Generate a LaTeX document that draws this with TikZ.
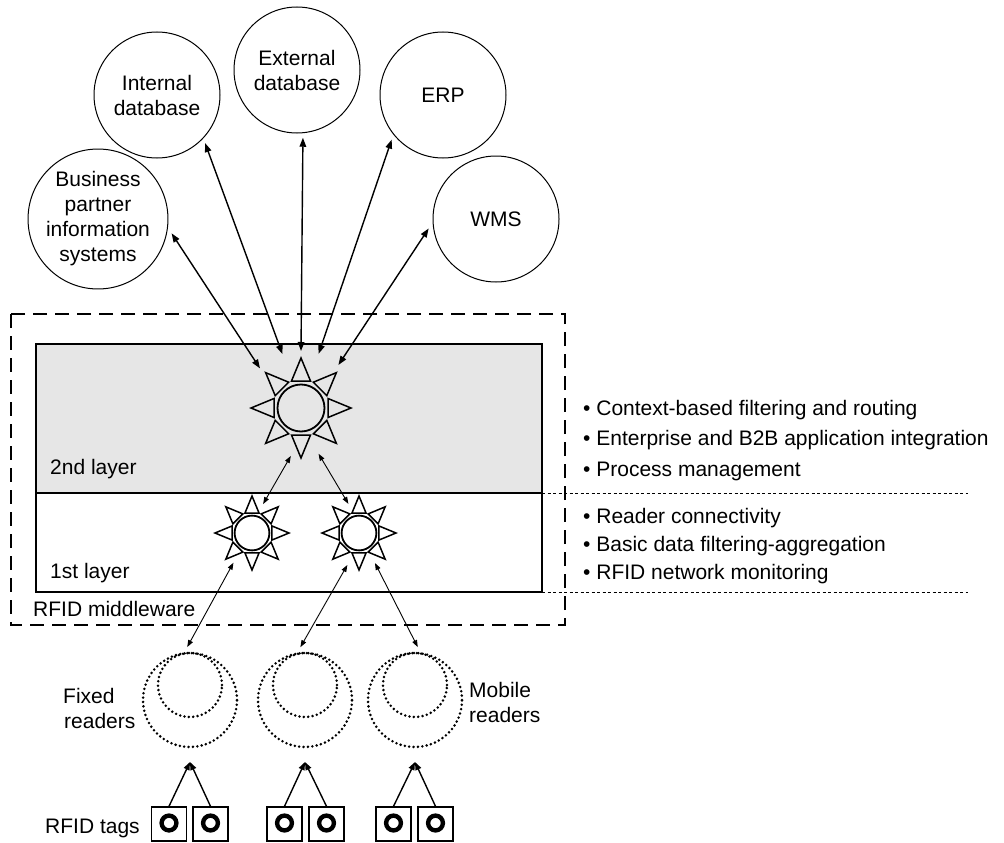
\documentclass[tikz,border=0pt]{standalone}
\usepackage{fontspec}
\setmainfont{Liberation Sans}
\usetikzlibrary{arrows.meta}
\definecolor{layergray}{HTML}{E6E6E6}
\begin{document}
\begin{tikzpicture}[x=1pt,y=-1pt,
  font=\fontsize{21}{25}\selectfont,
  ext/.style={circle, draw, line width=1pt, minimum size=126pt, inner sep=0pt, outer sep=5pt, align=center},
  hub/.style={circle, minimum size=#1, inner sep=0pt, outer sep=0pt},
  dotline/.style={line width=2.8pt, dash pattern=on 0pt off 4.4pt, line cap=round},
  reader/.style={circle, draw, dotline, minimum size=94pt, inner sep=0pt, outer sep=6pt},
  tagbox/.style={rectangle, draw, line width=1.4pt, minimum width=35pt, minimum height=34pt, inner sep=0pt},
  biglink/.style={line width=1.4pt, {Triangle[length=9pt,width=6.5pt]}-{Triangle[length=9pt,width=6.5pt]}},
  smalllink/.style={line width=0.9pt, {Triangle[length=7pt,width=5pt]}-{Triangle[length=7pt,width=5pt]}},
  taglink/.style={line width=1.4pt, -{Triangle[length=8pt,width=6pt]}},
  txt/.style={inner sep=0pt, anchor=base west},
  sunpic/.pic={
    \foreach \a in {0,45,...,315}{
      \draw[rotate=\a, line width=1.5pt, line join=miter] (27pt,-9.5pt) -- (50pt,0pt) -- (27pt,9.5pt) -- cycle;
    }
    \draw[line width=1.8pt] (0,0) circle[radius=23.5pt];
  }
]
\useasboundingbox (0,0) rectangle (1004,843);

% middleware layers
\draw[line width=1.2pt, fill=layergray] (36,344) rectangle (542,493);
\draw[line width=1.2pt] (36,493) rectangle (542,592);
\draw[line width=1pt, dash pattern=on 3pt off 2.5pt] (542,493) -- (968,493);
\draw[line width=1pt, dash pattern=on 3pt off 2.5pt] (542,592) -- (968,592);
\draw[line width=2pt, dash pattern=on 14pt off 8pt] (11,314) rectangle (565,625);

% suns
\pic at (301,408) {sunpic};
\pic[scale=0.74] at (252,533) {sunpic};
\pic[scale=0.74] at (359,533) {sunpic};
\node[hub=114pt] (mw) at (301,408) {};
\node[hub=98pt] (mwb) at (301,408) {};
\node[hub=62pt] (sl) at (252,533) {};
\node[hub=62pt] (sr) at (359,533) {};
\node[hub=70pt] (slb) at (252,533) {};
\node[hub=68pt] (srb) at (359,533) {};

% external systems
\node[ext, minimum size=130pt] (bp) at (98,219) {Business\\partner\\information\\systems};
\node[ext] (idb) at (157,95) {Internal\\database};
\node[ext] (edb) at (297,70) {External\\database};
\node[ext] (erp) at (443,95) {ERP};
\node[ext] (wms) at (496,219) {WMS};

\draw[biglink] (bp.-11) -- (mw.136);
\draw[biglink] (idb.-45) -- (mw.109);
\draw[biglink] (edb.-85) -- (mw.90);
\draw[biglink] (erp.-139) -- (mw.72);
\draw[biglink] (wms.-172) -- (mw.49);

% readers
\node[reader] (r1) at (190,700) {};
\node[reader] (r2) at (305,700) {};
\node[reader] (r3) at (415,700) {};
\draw[dotline] (190,685) circle[radius=32pt];
\draw[dotline] (305,685) circle[radius=32pt];
\draw[dotline] (415,685) circle[radius=32pt];

\draw[smalllink] (mwb.-102) -- (sl.69);
\draw[smalllink] (mwb.-69) -- (sr.110);
\draw[smalllink] (slb.-122) -- (r1.93);
\draw[smalllink] (srb.-110) -- (r2.95);
\draw[smalllink] (srb.-62) -- (r3.87);

% tags
\node[tagbox] (t1a) at (169,824) {};
\node[tagbox] (t1b) at (210.5,824) {};
\node[tagbox] (t2a) at (284.5,824) {};
\node[tagbox] (t2b) at (326.5,824) {};
\node[tagbox] (t3a) at (393.5,824) {};
\node[tagbox] (t3b) at (435.5,824) {};
\foreach \t in {t1a,t1b,t2a,t2b,t3a,t3b}{
  \draw[line width=4.4pt] ([yshift=1pt]\t.center) circle[radius=7.4pt];
}
\coordinate (a1) at (190,762);
\coordinate (a2) at (305,762);
\coordinate (a3) at (415,762);
\draw[taglink] (t1a.north) -- (a1);
\draw[taglink] (t1b.north) -- (a1);
\draw[taglink] (t2a.north) -- (a2);
\draw[taglink] (t2b.north) -- (a2);
\draw[taglink] (t3a.north) -- (a3);
\draw[taglink] (t3b.north) -- (a3);

% labels
\node[txt] (l2) at (50,474) {2nd layer};
\node[txt] (l1) at (50,578) {1st layer};
\node[txt] (rm) at (33,616) {RFID middleware};
\node[txt] (fx1) at (63,703) {Fixed};
\node[txt] (fx2) at (64,728) {readers};
\node[txt] (mb1) at (469,697) {Mobile};
\node[txt] (mb2) at (469,722) {readers};
\node[txt] (tg) at (45,833) {RFID tags};

\node[txt] (b1) at (583,415) {• Context-based filtering and routing};
\node[txt] (b2) at (583,445) {• Enterprise and B2B application integration};
\node[txt] (b3) at (583,476) {• Process management};
\node[txt] (b4) at (583,523) {• Reader connectivity};
\node[txt] (b5) at (583,551) {• Basic data filtering-aggregation};
\node[txt] (b6) at (583,579) {• RFID network monitoring};
\end{tikzpicture}
\end{document}
